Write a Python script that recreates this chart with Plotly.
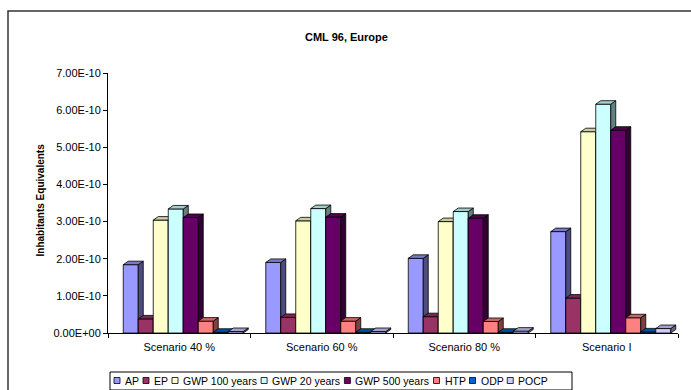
import plotly.graph_objects as go

# ---- data (values in units of 1E-10 inhabitant equivalents) ----
categories = ["Scenario 40 %", "Scenario 60 %", "Scenario 80 %", "Scenario I"]
series_names = ["AP", "EP", "GWP 100 years", "GWP 20 years",
                "GWP 500 years", "HTP", "ODP", "POCP"]
ap = [1.84, 1.90, 2.01, 2.73]
ep = [0.38, 0.42, 0.44, 0.94]
gwp100 = [3.04, 3.02, 3.00, 5.42]
gwp20 = [3.34, 3.35, 3.27, 6.16]
gwp500 = [3.11, 3.12, 3.09, 5.46]
htp = [0.32, 0.32, 0.31, 0.41]
odp = [0.02, 0.02, 0.02, 0.03]
pocp = [0.04, 0.04, 0.05, 0.12]
series_values = [ap, ep, gwp100, gwp20, gwp500, htp, odp, pocp]
UNIT = 1e-10
y_max = 7 * UNIT

colors = ["#9999FF", "#993366", "#FFFFCC", "#CCFFFF",
          "#660066", "#FF8080", "#0066CC", "#CCCCFF"]

# ---- geometry ----
FIG_W, FIG_H = 691, 390
L, R, T, B = 108, 13, 73, 57
PW, PH = FIG_W - L - R, FIG_H - T - B
px_per_cat = PW / 4.0
px_per_val = PH / y_max

bar_w = 15 / px_per_cat
first_off = -56 / px_per_cat
depth_x = 5 / px_per_cat
depth_y = 3.5 / px_per_val

FONT = "Arial, Liberation Sans, sans-serif"


def shade(hex_color, f):
    h = hex_color.lstrip("#")
    r, g, b = (int(h[i:i + 2], 16) for i in (0, 2, 4))
    return "rgb(%d,%d,%d)" % (r * f, g * f, b * f)


def px_x(px):
    return (px - L) / PW


def px_y(py):
    return (FIG_H - B - py) / PH


fig = go.Figure()
layout_axes = {}
for k, (name, vals, col) in enumerate(zip(series_names, series_values, colors)):
    # each series sits on its own overlaid axis so later bars hide earlier depth faces
    yref = "y" if k == 0 else "y%d" % (k + 1)
    off = first_off + k * bar_w
    ys = [v * UNIT for v in vals]
    xs = list(range(len(categories)))
    fig.add_trace(go.Bar(
        x=xs, y=ys, width=bar_w, offset=off, name=name,
        marker=dict(color=col, line=dict(color="black", width=0.8)),
        yaxis=yref, showlegend=False, hoverinfo="skip"))
    side_x, side_y, top_x, top_y = [], [], [], []
    for i, v in zip(xs, ys):
        xl = i + off
        xr = xl + bar_w
        side_x += [xr, xr, xr + depth_x, xr + depth_x, xr, None]
        side_y += [0, v, v + depth_y, depth_y, 0, None]
        top_x += [xl, xr, xr + depth_x, xl + depth_x, xl, None]
        top_y += [v, v, v + depth_y, v + depth_y, v, None]
    fig.add_trace(go.Scatter(
        x=side_x, y=side_y, mode="lines", fill="toself",
        fillcolor=shade(col, 0.5), line=dict(color="black", width=0.8),
        yaxis=yref, showlegend=False, hoverinfo="skip"))
    fig.add_trace(go.Scatter(
        x=top_x, y=top_y, mode="lines", fill="toself",
        fillcolor=shade(col, 0.8), line=dict(color="black", width=0.8),
        yaxis=yref, showlegend=False, hoverinfo="skip"))
    if k > 0:
        layout_axes["yaxis%d" % (k + 1)] = dict(
            overlaying="y", range=[0, y_max], visible=False, fixedrange=True)

tick_vals = [i * UNIT for i in range(8)]
tick_text = [f"{v:.2E}" for v in tick_vals]

shapes = [
    # chart area frame
    dict(type="rect", xref="paper", yref="paper",
         x0=px_x(8), x1=px_x(700), y0=px_y(400), y1=px_y(11),
         line=dict(color="#333333", width=1.5), fillcolor="rgba(0,0,0,0)"),
]
annotations = [
    dict(text="<b>CML 96, Europe</b>", xref="paper", yref="paper",
         x=px_x(346), y=px_y(29), showarrow=False,
         font=dict(family=FONT, size=11, color="black")),
    dict(text="<b>Inhabitants Equivalents</b>", xref="paper", yref="paper",
         x=px_x(32), y=px_y(200), showarrow=False, textangle=-90,
         font=dict(family=FONT, size=10, color="black")),
]

# ---- legend box with swatches ----
LEG_SIZE = 10.5
char_w = {" ": 278, "A": 667, "P": 667, "E": 667, "G": 778, "W": 944,
          "H": 722, "T": 611, "O": 778, "D": 722, "C": 722, "y": 500,
          "e": 556, "a": 556, "r": 333, "s": 500}


def text_w(s, size):
    return sum(char_w.get(c, 556) for c in s) * size / 1000.0


leg_x0, leg_x1, leg_y0, leg_y1 = 110, 572, 372, 390
leg_cy = 380.5
sw = 6
x = leg_x0 + 4
shapes.append(dict(type="rect", xref="paper", yref="paper",
                   x0=px_x(leg_x0), x1=px_x(leg_x1),
                   y0=px_y(leg_y1), y1=px_y(leg_y0),
                   line=dict(color="black", width=1), fillcolor="white"))
for name, col in zip(series_names, colors):
    shapes.append(dict(type="rect", xref="paper", yref="paper",
                       x0=px_x(x), x1=px_x(x + sw),
                       y0=px_y(leg_cy + sw / 2), y1=px_y(leg_cy - sw / 2),
                       line=dict(color="black", width=0.8), fillcolor=col))
    tx = x + sw + 3
    annotations.append(dict(text=name, xref="paper", yref="paper",
                            x=px_x(tx), y=px_y(leg_cy), xanchor="left",
                            yanchor="middle", showarrow=False,
                            font=dict(family=FONT, size=LEG_SIZE, color="black")))
    x = tx + text_w(name, LEG_SIZE) + 6

fig.update_layout(
    width=FIG_W, height=FIG_H,
    margin=dict(l=L, r=R, t=T, b=B, pad=0),
    paper_bgcolor="white", plot_bgcolor="white",
    barmode="overlay", showlegend=False,
    xaxis=dict(range=[-0.5, 3.5], tickmode="array",
               tickvals=list(range(len(categories))), ticktext=categories,
               ticks="", showline=True, linecolor="black", linewidth=1,
               showgrid=False, zeroline=False, fixedrange=True,
               ticklabelstandoff=4,
               tickfont=dict(family=FONT, size=11, color="black"),
               minor=dict(tickmode="array",
                          tickvals=[i - 0.5 for i in range(len(categories) + 1)],
                          ticks="outside", ticklen=4, tickcolor="black",
                          tickwidth=1, showgrid=False)),
    yaxis=dict(range=[0, y_max], tickmode="array", tickvals=tick_vals,
               ticktext=tick_text, ticks="outside", ticklen=4,
               tickcolor="black", showline=True, linecolor="black",
               linewidth=1, showgrid=False, zeroline=False, fixedrange=True,
               tickfont=dict(family=FONT, size=11, color="black")),
    shapes=shapes, annotations=annotations,
    **layout_axes,
)

fig.write_html("out.html")
